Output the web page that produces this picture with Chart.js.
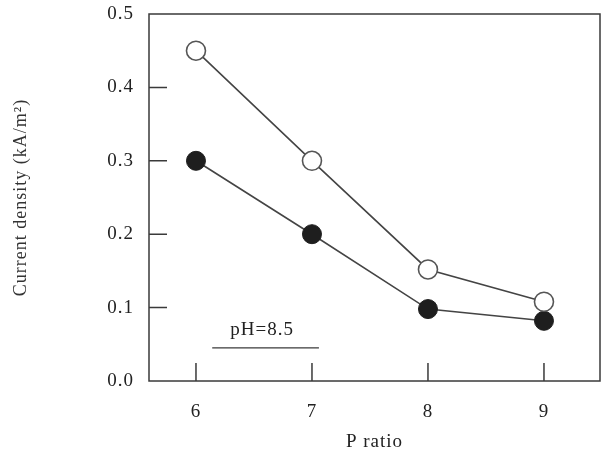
<!DOCTYPE html>
<html>
<head>
<meta charset="utf-8">
<script src="https://cdn.jsdelivr.net/npm/chart.js@4.4.0/dist/chart.umd.min.js"></script>
<style>
  html, body { margin: 0; padding: 0; background: #fff; overflow: hidden; }
  canvas { display: block; }
</style>
</head>
<body>
<canvas id="myChart" width="603" height="455"></canvas>
<script>
// P ratio on the x axis
var pRatio = [6, 7, 8, 9];
// current density, kA/m2
var openSeries = [0.45, 0.30, 0.152, 0.108];
var filledSeries = [0.30, 0.20, 0.098, 0.082];
var yTicks = [0.0, 0.1, 0.2, 0.3, 0.4, 0.5];

var serif = "'Liberation Serif', 'DejaVu Serif', serif";

function pts(ys) {
  return pRatio.map(function(x, i) { return { x: x, y: ys[i] }; });
}

function noPad(s) {
  s.paddingLeft = 0; s.paddingRight = 0;
  s.paddingTop = 0; s.paddingBottom = 0;
}

// frame round the plot, inward ticks and the pH note
var extras = {
  id: 'extras',
  beforeDraw: function(chart) {
    chart.ctx.letterSpacing = '1px';
  },
  afterDatasetsDraw: function(chart) {
    var ctx = chart.ctx, a = chart.chartArea;
    var xs = chart.scales.x, ys = chart.scales.y;
    ctx.save();
    ctx.strokeStyle = '#3a3a3a';
    ctx.lineWidth = 1.5;
    ctx.strokeRect(a.left, a.top, a.right - a.left, a.bottom - a.top);
    ctx.beginPath();
    pRatio.forEach(function(v) {
      var px = xs.getPixelForValue(v);
      ctx.moveTo(px, a.bottom);
      ctx.lineTo(px, a.bottom - 18);
    });
    yTicks.slice(1, -1).forEach(function(v) {
      var py = ys.getPixelForValue(v);
      ctx.moveTo(a.left, py);
      ctx.lineTo(a.left + 18, py);
    });
    ctx.stroke();
    // pH note
    ctx.beginPath();
    ctx.lineWidth = 1.3;
    ctx.moveTo(xs.getPixelForValue(6.14), ys.getPixelForValue(0.045));
    ctx.lineTo(xs.getPixelForValue(7.06), ys.getPixelForValue(0.045));
    ctx.stroke();
    ctx.fillStyle = '#222';
    ctx.font = '19px ' + serif;
    ctx.textAlign = 'center';
    ctx.textBaseline = 'middle';
    ctx.fillText('pH=8.5', xs.getPixelForValue(6.57), ys.getPixelForValue(0.069));
    ctx.restore();
  }
};

new Chart(document.getElementById('myChart'), {
  type: 'line',
  data: {
    datasets: [
      {
        label: 'open',
        data: pts(openSeries),
        borderColor: '#444',
        borderWidth: 1.6,
        pointRadius: 9.5,
        pointBackgroundColor: '#fff',
        pointBorderColor: '#555',
        pointBorderWidth: 1.6,
        tension: 0
      },
      {
        label: 'filled',
        data: pts(filledSeries),
        borderColor: '#444',
        borderWidth: 1.6,
        pointRadius: 9.5,
        pointBackgroundColor: '#1e1e1e',
        pointBorderColor: '#1e1e1e',
        pointBorderWidth: 1,
        tension: 0
      }
    ]
  },
  options: {
    responsive: false,
    animation: false,
    layout: { autoPadding: false, padding: { top: 14, right: 3, left: 0, bottom: 0 } },
    plugins: {
      legend: { display: false },
      tooltip: { enabled: false }
    },
    scales: {
      x: {
        type: 'linear',
        min: 5.595,
        max: 9.483,
        afterBuildTicks: function(s) {
          s.ticks = pRatio.map(function(v) { return { value: v }; });
        },
        afterFit: function(s) {
          s.height = 74;
          noPad(s);
        },
        grid: { drawOnChartArea: false, drawTicks: false },
        border: { display: false },
        ticks: {
          color: '#222',
          padding: 20,
          font: { family: serif, size: 19 }
        },
        title: {
          display: true,
          text: 'P ratio',
          color: '#222',
          padding: { top: 0, bottom: 2 },
          font: { family: serif, size: 19 }
        }
      },
      y: {
        min: 0,
        max: 0.5,
        afterBuildTicks: function(s) {
          s.ticks = yTicks.map(function(v) { return { value: v }; });
        },
        afterFit: function(s) {
          s.width = 149;
          noPad(s);
        },
        grid: { drawOnChartArea: false, drawTicks: false },
        border: { display: false },
        ticks: {
          color: '#222',
          padding: 15,
          font: { family: serif, size: 19 },
          callback: function(v) { return Number(v).toFixed(1); }
        },
        title: {
          display: true,
          text: 'Current density (kA/m²)',
          color: '#333',
          padding: { top: 10, bottom: 0 },
          font: { family: serif, size: 18 }
        }
      }
    }
  },
  plugins: [extras]
});
</script>
</body>
</html>
